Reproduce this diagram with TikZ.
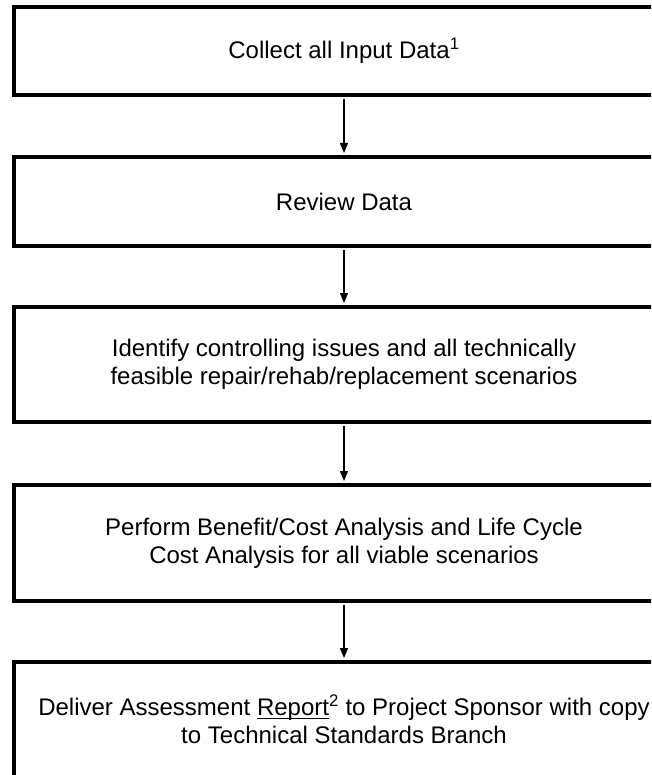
\documentclass[tikz,border=0pt]{standalone}
\usepackage{fontspec}
\setmainfont{Liberation Sans}
\usetikzlibrary{arrows.meta}
\newcommand\souligne[1]{\leavevmode\setbox0\hbox{#1}\rlap{\vrule height -2pt depth 3.4pt width \wd0}\box0}
\tikzset{etape/.style={draw,rectangle,line width=4pt,minimum width=660pt,inner sep=0pt,align=center,font=\fontsize{24}{28}\selectfont},
fleche/.style={line width=1.3pt,-{Triangle[length=10pt,width=8pt]},shorten <=2pt,shorten >=2pt}}

\begin{document}
\begin{tikzpicture}[x=1pt,y=-1pt]
\useasboundingbox (0,0) rectangle (651,775);
\clip (0,0) rectangle (651,775);
\node[etape,minimum height=88pt] (C)at(344,51) {Collect all Input Data\textsuperscript{1}};
\node[etape,minimum height=89pt] (R)at(344,201.5) {Review Data};
\node[etape,minimum height=115pt] (I)at(344,364.5) {Identify controlling issues and all technically\\feasible repair/rehab/replacement scenarios};
\node[etape,minimum height=116pt] (P)at(344,543) {Perform Benefit/Cost Analysis and Life Cycle\\Cost Analysis for all viable scenarios};
\node[etape,minimum height=115pt] (D)at(344,719.5) {Deliver Assessment \souligne{Report}\textsuperscript{2} to Project Sponsor with copy\\to Technical Standards Branch};
\draw[fleche] (C)--(R);
\draw[fleche] (R)--(I);
\draw[fleche] (I)--(P);
\draw[fleche] (P)--(D);
\end{tikzpicture}
\end{document}
